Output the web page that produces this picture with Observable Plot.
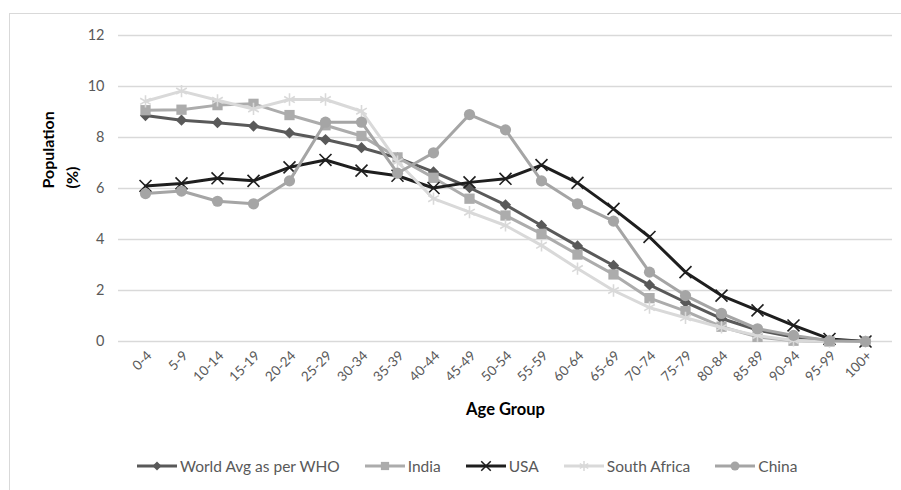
<!DOCTYPE html>
<html><head><meta charset="utf-8">
<script src="https://cdn.jsdelivr.net/npm/d3@7"></script>
<script src="https://cdn.jsdelivr.net/npm/@observablehq/plot@0.6"></script>
<style>
body{margin:0;background:#fff;}
#wrap{position:relative;width:901px;height:490px;overflow:hidden;font-family:Lato,"Open Sans",sans-serif;background:#fff;}
#frame{position:absolute;left:9px;top:13px;width:1000px;height:1000px;border:1px solid #d9d9d9;}
#chart{position:absolute;left:0;top:0;}
#legend{position:absolute;top:456px;left:136px;height:20px;display:flex;align-items:center;font-size:15.5px;color:#595959;white-space:nowrap;}
.item{display:flex;align-items:center;margin-right:24px;}
.item svg{margin-right:2px;}
</style></head><body>
<div id="wrap"><div id="frame"></div><div id="chart"></div><div id="legend"></div></div>
<script>
const ageGroups = ["0-4","5-9","10-14","15-19","20-24","25-29","30-34","35-39","40-44","45-49","50-54","55-59","60-64","65-69","70-74","75-79","80-84","85-89","90-94","95-99","100+"];
const worldAvg    = [8.86,8.68,8.58,8.45,8.18,7.92,7.6,7.2,6.65,6.03,5.36,4.55,3.75,2.98,2.22,1.54,0.9,0.45,0.18,0.04,0.0];
const india       = [9.07,9.09,9.27,9.32,8.88,8.48,8.06,7.22,6.42,5.6,4.94,4.22,3.41,2.63,1.7,1.19,0.58,0.18,0.03,0.0,0.0];
const usa         = [6.1,6.2,6.4,6.3,6.83,7.12,6.7,6.5,6.02,6.24,6.38,6.92,6.22,5.2,4.1,2.72,1.8,1.22,0.63,0.1,0.0];
const southAfrica = [9.42,9.82,9.46,9.12,9.49,9.49,9.03,7.05,5.6,5.07,4.55,3.77,2.86,2.0,1.33,0.93,0.55,0.23,0.04,0.0,0.0];
const china       = [5.8,5.9,5.5,5.4,6.3,8.6,8.6,6.6,7.4,8.9,8.3,6.3,5.4,4.72,2.72,1.8,1.1,0.5,0.24,0.03,0.0];
const seriesNames = ["World Avg as per WHO","India","USA","South Africa","China"];
const yTicks = [0,2,4,6,8,10,12];

// custom square diamond symbol (rotated square like Excel)
const diamondSq = {draw(ctx, size){ const s = Math.sqrt(size)*0.6; ctx.moveTo(0,-s); ctx.lineTo(s,0); ctx.lineTo(0,s); ctx.lineTo(-s,0); ctx.closePath(); }};

const styles = [
  {name: seriesNames[0], values: worldAvg,    color:"#595959", symbol: diamondSq,      filled:true,  r:5.3},
  {name: seriesNames[1], values: india,       color:"#acacac", symbol: "square",       filled:true,  r:5.8},
  {name: seriesNames[2], values: usa,         color:"#1e1e1e", symbol: "times",        filled:false, r:5.5},
  {name: seriesNames[3], values: southAfrica, color:"#d9d9d9", symbol: "asterisk",     filled:false, r:5.8},
  {name: seriesNames[4], values: china,       color:"#a5a5a5", symbol: "circle",       filled:true,  r:5.6}
];

const marks = [
  Plot.gridY(yTicks, {stroke:"#d9d9d9", strokeOpacity:1, strokeWidth:1.3}),
  Plot.axisY(yTicks, {tickSize:0, tickPadding:14, fontSize:14.5, fill:"#595959", label:null}),
  Plot.axisX({tickRotate:-45, tickSize:0, tickPadding:12, dx:4, fontSize:13.5, fill:"#595959", label:null}),
  Plot.text(["Age Group"], {frameAnchor:"bottom", dy:73, fontWeight:"bold", fontSize:16.5, fill:"#000"}),
  Plot.text(["Population\n(%)"], {frameAnchor:"left", dx:-60, rotate:-90, fontWeight:"bold", fontSize:16, lineHeight:1.45, fill:"#000"})
];
for (const s of styles) {
  const rows = ageGroups.map((a,i) => ({age:a, value:s.values[i], series:s.name}));
  marks.push(Plot.line(rows, {x:"age", y:"value", stroke:s.color, strokeWidth:3, strokeLinejoin:"round", strokeLinecap:"round"}));
  if (s.filled) marks.push(Plot.dot(rows, {x:"age", y:"value", symbol: s.symbol, r:s.r, fill:s.color, stroke:"none"}));
  else marks.push(Plot.dot(rows, {x:"age", y:"value", symbol: s.symbol, r:s.r, stroke:s.color, strokeWidth:1.6, fill:"none"}));
}

const chart = Plot.plot({
  width: 901, height: 440,
  marginTop: 35, marginBottom: 99, marginLeft: 118, marginRight: 9,
  style: {fontFamily: "Lato, 'Open Sans', sans-serif", background: "transparent"},
  x: {type:"band", domain: ageGroups, padding: 0},
  y: {domain: [0,12]},
  marks
});
document.getElementById("chart").appendChild(chart);

// legend
const legend = document.getElementById("legend");
for (const s of styles) {
  const item = document.createElement("div"); item.className = "item";
  const svg = d3.create("svg").attr("width", 42).attr("height", 16);
  svg.append("line").attr("x1",1).attr("x2",41).attr("y1",8).attr("y2",8).attr("stroke",s.color).attr("stroke-width",3);
  const symType = typeof s.symbol === "string" ? {square:d3.symbolSquare, times:d3.symbolTimes, asterisk:d3.symbolAsterisk, circle:d3.symbolCircle}[s.symbol] : s.symbol;
  const p = svg.append("path").attr("transform","translate(21,8)").attr("d", d3.symbol(symType, Math.PI*(s.r*0.8)**2)());
  if (s.filled) p.attr("fill", s.color); else p.attr("fill","none").attr("stroke", s.color).attr("stroke-width",1.5);
  item.appendChild(svg.node());
  const span = document.createElement("span"); span.textContent = s.name; item.appendChild(span);
  legend.appendChild(item);
}
</script>
</body></html>
